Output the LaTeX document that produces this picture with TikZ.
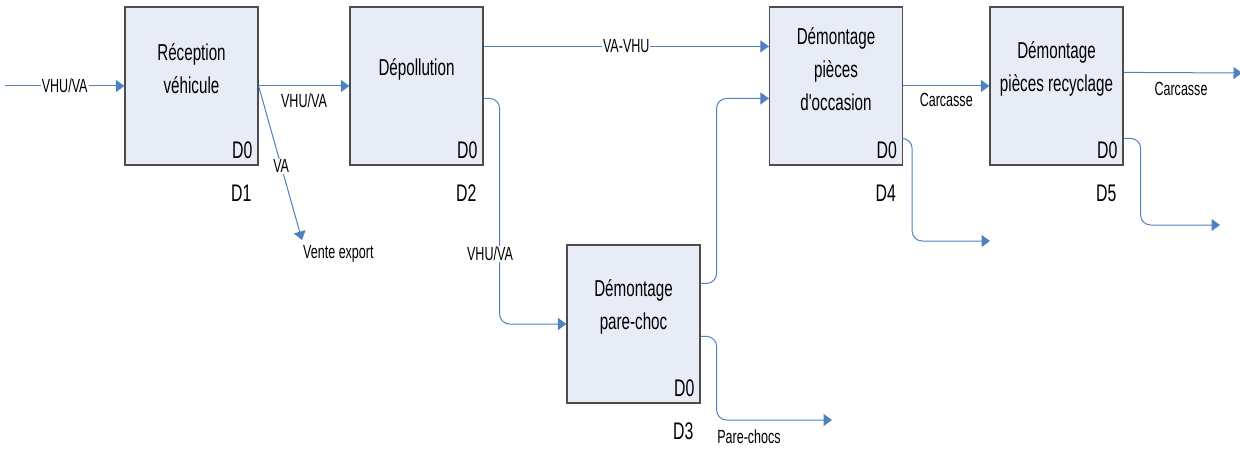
\documentclass[tikz,border=0pt]{standalone}
\usepackage{fontspec}
\usetikzlibrary{arrows.meta}

\newfontfamily\narrowsans[FakeStretch=0.66]{Liberation Sans}
\definecolor{flowblue}{HTML}{4F81BD}
\definecolor{boxfill}{HTML}{E7ECF6}
\definecolor{boxline}{HTML}{4D4D4D}

\newcommand*{\boxw}{133}
\newcommand*{\boxh}{158}

\begin{document}
\begin{tikzpicture}
[
	x=1pt,y=1pt,
	stage/.style={draw=boxline,line width=1.2pt,fill=boxfill,minimum width=\boxw pt,minimum height=\boxh pt,inner sep=0pt},
	stagetxt/.style={align=center,font=\narrowsans\fontsize{23}{33}\selectfont,inner sep=0pt},
	code/.style={font=\narrowsans\fontsize{24}{28}\selectfont,inner sep=0pt},
	flow/.style={flowblue,line width=1pt,-{Triangle[length=8.5pt,width=12pt]}},
	elbow/.style={flow,rounded corners=10pt},
	lbl/.style={text=black,font=\narrowsans\fontsize{19}{22}\selectfont,inner sep=1pt},
	onlbl/.style={lbl,fill=white},
]

	\useasboundingbox (0,0) rectangle (1240,448);

	% stages
	\node[stage] (recep) at (191.5,362) {};
	\node[stage] (depol) at (416.5,362) {};
	\node[stage] (pchoc) at (633.5,124) {};
	\node[stage] (occas) at (836,362) {};
	\node[stage] (recyc) at (1056.5,362) {};

	\node[stagetxt] at ([yshift=17]recep.center) {Réception\\véhicule};
	\node[stagetxt] at ([yshift=17]depol.center) {Dépollution};
	\node[stagetxt] at ([yshift=17]pchoc.center) {Démontage\\pare-choc};
	\node[stagetxt] at ([yshift=17]occas.center) {Démontage\\pièces\\d'occasion};
	\node[stagetxt] at ([yshift=17]recyc.center) {Démontage\\pièces recyclage};

	% codes
	\foreach \st/\num in {recep/1,depol/2,pchoc/3,occas/4,recyc/5} {
		\node[code,anchor=base east] at ([xshift=-6,yshift=7]\st.south east) {D0};
		\node[code,anchor=base east] at ([xshift=-7,yshift=-36]\st.south east) {D\num};
	}

	% ends
	\coordinate (vhuin) at (5,362);
	\coordinate (exportend) at (302,208);
	\coordinate (pcend) at (832,28);
	\coordinate (occend) at (990,207);
	\coordinate (carcend) at (1242,375);
	\coordinate (recend) at (1220,223);

	% flows
	\draw[flow] (vhuin) -- node[onlbl] {VHU/VA} (recep.west);
	\draw[flow] (recep.east) -- node[lbl,below=6pt] {VHU/VA} (depol.west);
	\draw[flow] (recep.east) -- node[onlbl,pos=0.52] {VA} (exportend);
	\node[lbl,anchor=north west] (export) at ([yshift=-4]exportend) {Vente export};

	\draw[flow] ([yshift=-40]depol.north east) -- node[onlbl] {VA-VHU} ([yshift=-40]occas.north west);
	\draw[elbow] ([yshift=-92]depol.north east) -- ++(16,0) |- (pchoc.west);
	\node[onlbl] (vhuva) at (490,194) {VHU/VA};

	\draw[elbow] ([yshift=-39]pchoc.north east) -- ++(16,0) |- ([yshift=-92]occas.north west);
	\draw[elbow] ([yshift=-92]pchoc.north east) -- ++(16,0) |- (pcend);
	\node[lbl] (pclbl) at (749,11) {Pare-chocs};

	\draw[flow] (occas.east) -- node[lbl,below=6pt] {Carcasse} (recyc.west);
	\draw[elbow] ([yshift=-132]occas.north east) -- ++(9,0) |- (occend);

	\draw[flow] ([yshift=-66]recyc.north east) -- (carcend);
	\node[lbl] (carclbl) at (1181,359) {Carcasse};
	\draw[elbow] ([yshift=-132]recyc.north east) -- ++(17,0) |- (recend);

\end{tikzpicture}
\end{document}
